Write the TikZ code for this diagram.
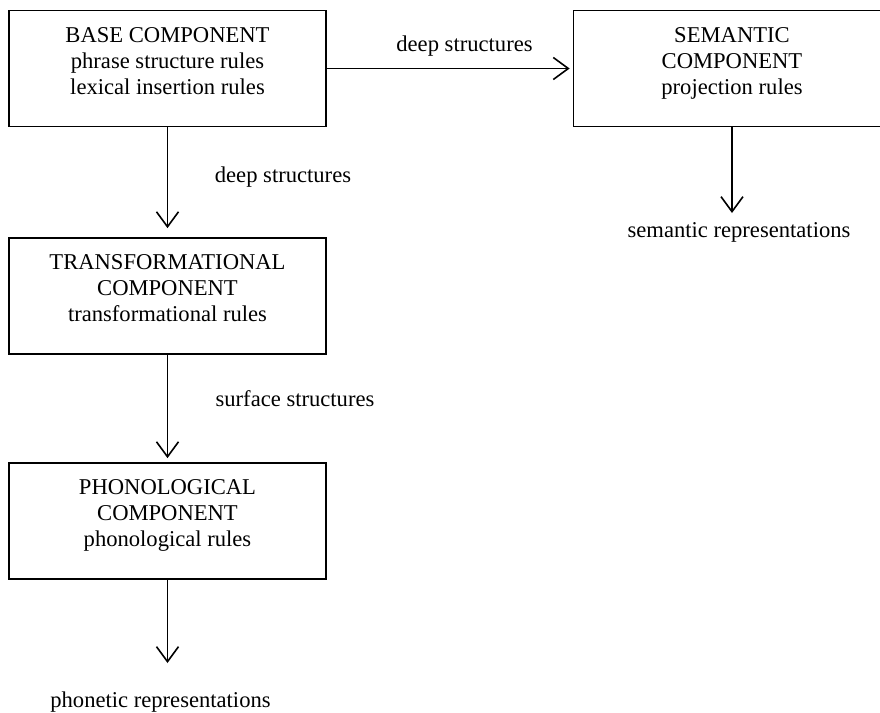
\documentclass[tikz,border=0pt]{standalone}
\usepackage{fontspec}
\setmainfont{Liberation Serif}
\usetikzlibrary{arrows.meta,positioning}
\tikzset{
  comp/.style={draw, line width=0.85pt, align=center, inner sep=0pt,
    minimum width=158.5pt, minimum height=58pt, text depth=7.5pt},
  lbl/.style={inner sep=0pt},
  flow/.style={line width=0.8pt, -{Straight Barb[length=7.5pt,width=11pt]}},
}
\begin{document}
\begin{tikzpicture}[x=0.5pt, y=-0.5pt, font=\fontsize{11.3}{13}\selectfont]
  \useasboundingbox (0,0) rectangle (880,713);
  \node[comp] (base) at (167.5,68.5) {BASE COMPONENT\\phrase structure rules\\lexical insertion rules};
  \node[comp] (sem) at (732,68.5) {SEMANTIC\\COMPONENT\\projection rules};
  \node[comp] (trans) at (167.5,296) {TRANSFORMATIONAL\\COMPONENT\\transformational rules};
  \node[comp] (phon) at (167.5,521) {PHONOLOGICAL\\COMPONENT\\phonological rules};
  \coordinate (semout) at (732,213);
  \coordinate (phonout) at (167.5,663);
  \node[lbl] (deepdown) at (283,177) {deep structures};
  \node[lbl] (deepright) at (464.5,46) {deep structures};
  \node[lbl] (surface) at (295,399) {surface structures};
  \node[lbl] (semrep) at (739,232) {semantic representations};
  \node[lbl] (phonrep) at (160.5,702) {phonetic representations};
  \begin{scope}[flow]
    \draw[shorten >=4.5pt] (base) to (trans);
    \draw[shorten >=1.5pt] (base) to (sem);
    \draw[shorten >=2pt] (trans) to (phon);
    \draw (sem) to (semout);
    \draw (phon) to (phonout);
  \end{scope}
\end{tikzpicture}
\end{document}
